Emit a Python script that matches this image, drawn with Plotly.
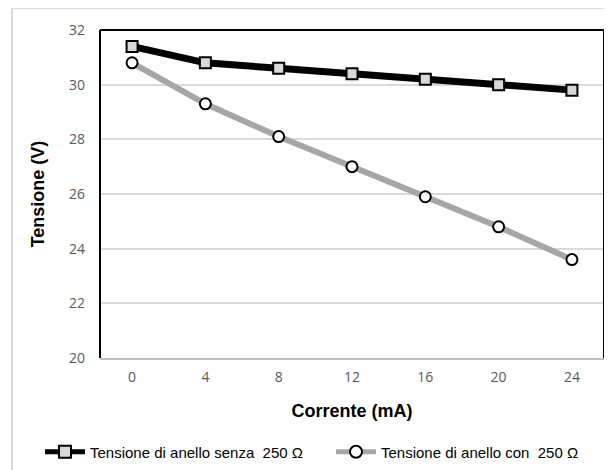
import plotly.graph_objects as go

categories = ["0", "4", "8", "12", "16", "20", "24"]
senza = [31.4, 30.8, 30.6, 30.4, 30.2, 30.0, 29.8]
con = [30.8, 29.3, 28.1, 27.0, 25.9, 24.8, 23.6]
y_ticks = [20, 22, 24, 26, 28, 30, 32]
name_senza = "Tensione di anello senza  250 Ω"
name_con = "Tensione di anello con  250 Ω"

# page is rendered with an 8px body margin
OFF = 8
W, H = 612 - OFF, 470 - OFF
L, R, T, B = 100 - OFF, 8, 30 - OFF, 112
pw, ph = W - L - R, H - T - B

def px(x):
    return (x - OFF - L) / pw

def py(y):
    return (H - B - (y - OFF)) / ph

fig = go.Figure()
fig.add_trace(go.Scatter(
    x=categories, y=senza, name=name_senza, mode="lines+markers",
    line=dict(color="black", width=7),
    marker=dict(symbol="square", size=11, color="#d9d9d9", line=dict(color="black", width=2)),
    legend="legend",
))
fig.add_trace(go.Scatter(
    x=categories, y=con, name=name_con, mode="lines+markers",
    line=dict(color="#a6a6a6", width=6),
    marker=dict(symbol="circle", size=11, color="white", line=dict(color="black", width=2)),
    legend="legend2",
))

shapes = [
    dict(type="rect", xref="paper", yref="paper", x0=px(12), x1=px(640), y0=py(8), y1=py(500),
         line=dict(color="#d9d9d9", width=2), layer="below"),
    dict(type="line", xref="paper", yref="paper", x0=0, x1=0, y0=0, y1=1, line=dict(color="black", width=2)),
    dict(type="line", xref="paper", yref="paper", x0=0, x1=1, y0=1, y1=1, line=dict(color="black", width=2)),
    dict(type="line", xref="paper", yref="paper", x0=1, x1=1, y0=0, y1=1, line=dict(color="black", width=2)),
]

leg_common = dict(orientation="h", xanchor="left", yanchor="middle",
                  font=dict(size=15, family="Liberation Sans"),
                  itemsizing="constant", itemwidth=40, bgcolor="rgba(0,0,0,0)")

fig.update_layout(
    width=W, height=H,
    margin=dict(l=L, r=R, t=T, b=B, autoexpand=False),
    paper_bgcolor="white", plot_bgcolor="white",
    font=dict(family="Liberation Sans, Arial", color="black"),
    showlegend=True,
    legend=dict(x=px(40), y=py(452), **leg_common),
    legend2=dict(x=px(331), y=py(452), **leg_common),
    shapes=shapes,
    xaxis=dict(
        type="category", showgrid=False, showline=True, linecolor="#bfbfbf", linewidth=2,
        ticks="", ticklabelstandoff=5,
        tickfont=dict(size=14, color="#595959", family="Open Sans, Liberation Sans"),
        title=dict(text="<b>Corrente (mA)</b>", font=dict(size=18, family="Liberation Sans"), standoff=20),
    ),
    yaxis=dict(
        range=[20, 32], tickvals=y_ticks, showgrid=True, gridcolor="#d9d9d9", gridwidth=2,
        zeroline=False, showline=False, ticks="", ticklabelstandoff=14,
        tickfont=dict(size=14, color="#595959", family="Open Sans, Liberation Sans"),
        title=dict(text="<b>Tensione (V)</b>", font=dict(size=18, family="Liberation Sans"), standoff=19),
    ),
)

fig.write_html("out.html")
